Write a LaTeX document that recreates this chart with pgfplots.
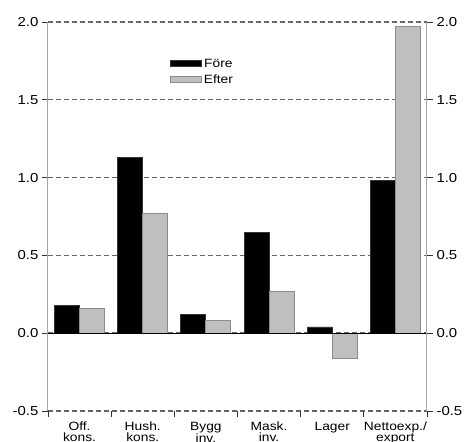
\documentclass[border=0pt]{standalone}
\usepackage{fontspec}
\setmainfont{Liberation Sans}[FakeStretch=1.15]
\usepackage{pgfplots}
\pgfplotsset{compat=1.18}
\begin{document}
\begin{tikzpicture}
\begin{axis}[
  name=main,
  scale only axis, width=379pt, height=389pt,
  xmin=-0.5, xmax=5.5, ymin=-0.5, ymax=2,
  ybar=0pt, bar width=25pt,
  separate axis lines,
  x axis line style={draw=none},
  y axis line style={draw=gray!70, line width=1pt},
  xtick={-0.5,0.5,1.5,2.5,3.5,4.5,5.5},
  x tick label as interval,
  xticklabels={{Off.\\kons.},{Hush.\\kons.},{Bygg\\inv.},{Mask.\\inv.},{Lager},{Nettoexp./\\export}},
  xticklabel style={align=center, font=\fontsize{12}{11}\selectfont, inner sep=1pt, yshift=-4pt},
  xtick pos=lower, ytick pos=left,
  ytick={-0.5,0,0.5,1,1.5,2},
  tick align=outside, major tick length=6pt,
  major tick style={draw=gray!40!black, line width=0.9pt},
  yticklabel style={font=\fontsize{13}{14}\selectfont, /pgf/number format/.cd, fixed, fixed zerofill, precision=1, assume math mode=true},
  ymajorgrids,
  grid style={draw=gray!80!black, dash pattern=on 5pt off 3pt, line width=1.4pt},
  legend style={at={(axis cs:1.38,1.79)}, anchor=north west, draw=none, fill=none, font=\fontsize{12}{13}\selectfont, row sep=2pt},
  legend image code/.code={\draw[#1, bar shift=0pt] (0pt,-3pt) rectangle (26pt,3pt); \useasboundingbox (0pt,-3pt) rectangle (31pt,3pt);},
]
\addplot[fill=black, draw=gray!40!black, line width=0.9pt] coordinates {(0,0.18) (1,1.13) (2,0.12) (3,0.65) (4,0.04) (5,0.98)};
\addplot[fill=black!25, draw=gray!90, line width=0.9pt] coordinates {(0,0.16) (1,0.77) (2,0.08) (3,0.27) (4,-0.16) (5,1.97)};
\legend{Före, Efter}
\draw[black, line width=1.2pt] (axis cs:-0.5,0) -- (axis cs:5.5,0);
\end{axis}
\begin{axis}[
  scale only axis, width=379pt, height=389pt,
  xmin=-0.5, xmax=5.5, ymin=-0.5, ymax=2,
  hide x axis,
  axis y line*=right,
  y axis line style={draw=gray!70, line width=1pt},
  ytick={-0.5,0,0.5,1,1.5,2},
  tick align=outside, major tick length=6pt,
  major tick style={draw=gray!40!black, line width=0.9pt},
  yticklabel style={font=\fontsize{13}{14}\selectfont, /pgf/number format/.cd, fixed, fixed zerofill, precision=1, assume math mode=true},
]
\end{axis}
\pgfresetboundingbox
\path[use as bounding box] ([xshift=-48pt,yshift=-31pt]main.south west) rectangle ([xshift=419pt,yshift=411pt]main.south west);
\end{tikzpicture}
\end{document}
